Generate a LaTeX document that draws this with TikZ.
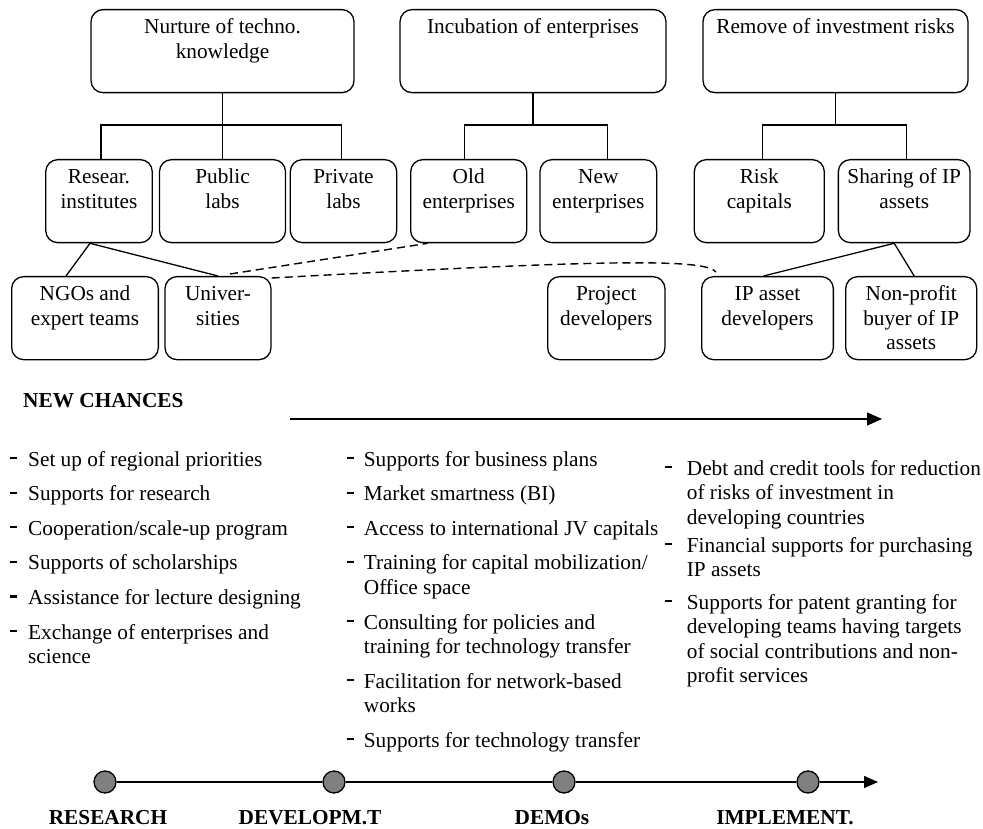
\documentclass[tikz,border=0pt]{standalone}
\usepackage{fontspec}
\setmainfont{Liberation Serif}
\usetikzlibrary{arrows.meta}

\newcommand{\boxlines}[1]{\begin{tabular}[t]{@{}c@{}}#1\end{tabular}}
\newcommand{\chancelines}[2][11pt]{\rule[6.8pt]{7pt}{2.3pt}\hspace{#1}\begin{tabular}[t]{@{}l@{}}#2\end{tabular}}

\begin{document}
\begin{tikzpicture}[x=1pt,y=-1pt,
    every node/.style={font=\fontsize{21.3}{24.5}\selectfont},
    unit/.style={draw, line width=1.3pt, rounded corners=12pt, anchor=north, inner sep=0pt, text height=24pt, text depth=59pt},
    chance/.style={anchor=base west, inner sep=0pt},
    stage/.style={anchor=base, inner sep=0pt, font=\fontsize{21.3}{24.5}\selectfont\bfseries},
    milestone/.style={draw, line width=1.3pt, fill=gray, circle, minimum size=22pt, inner sep=0pt},
    tree/.style={line width=1.3pt},
    link/.style={line width=1.4pt, dash pattern=on 8pt off 5pt}]
    \useasboundingbox (0,0) rectangle (983,829);

    % top level
    \node[unit, minimum width=263pt] (nur) at (222.5,9) {\boxlines{Nurture of techno.\\knowledge}};
    \node[unit, minimum width=266pt] (inc) at (533,9) {\boxlines{Incubation of enterprises}};
    \node[unit, minimum width=265pt] (rem) at (835.5,9) {\boxlines{Remove of investment risks}};

    % second level
    \node[unit, minimum width=106.5pt] (res) at (99,159) {\boxlines{Resear.\\institutes}};
    \node[unit, minimum width=126pt] (pub) at (222.5,159) {\boxlines{Public\\labs}};
    \node[unit, minimum width=106.4pt] (pri) at (343.5,159) {\boxlines{Private\\labs}};
    \node[unit, minimum width=116pt] (old) at (468.7,159) {\boxlines{Old\\enterprises}};
    \node[unit, minimum width=116.7pt] (new) at (598.3,159) {\boxlines{New\\enterprises}};
    \node[unit, minimum width=130pt] (risk) at (759.3,159) {\boxlines{Risk\\capitals}};
    \node[unit, minimum width=131.7pt] (share) at (904.2,159) {\boxlines{Sharing of IP\\assets}};

    % third level
    \node[unit, minimum width=146.7pt] (ngo) at (85,276) {\boxlines{NGOs and\\expert teams}};
    \node[unit, minimum width=106pt] (uni) at (218,276) {\boxlines{Univer-\\sities}};
    \node[unit, minimum width=117.3pt] (proj) at (606.3,276) {\boxlines{Project\\developers}};
    \node[unit, minimum width=131.7pt] (ipd) at (767.5,276) {\boxlines{IP asset\\developers}};
    \node[unit, minimum width=131pt] (npb) at (911.2,276) {\boxlines{Non-profit\\buyer of IP\\assets}};

    % tree connectors
    \coordinate (nurbar) at (222.5,125);
    \coordinate (incbar) at (533,125);
    \coordinate (rembar) at (835.5,125);
    \draw[tree] (nur.south) -- (pub.north);
    \draw[tree] ([xshift=2pt]res.north) |- (nurbar) -| ([xshift=-2pt]pri.north);
    \draw[tree] (inc.south) -- (incbar);
    \draw[tree] ([xshift=-4pt]old.north) |- (incbar) -| ([xshift=9pt]new.north);
    \draw[tree] (rem.south) -- (rembar);
    \draw[tree] ([xshift=3pt]risk.north) |- (rembar) -| ([xshift=2pt]share.north);

    \draw[tree] ([xshift=-9pt]res.south) -- ([xshift=-19pt]ngo.north);
    \draw[tree] ([xshift=-9pt]res.south) -- (uni.north);
    \draw[tree] ([xshift=-10pt]share.south) -- ([xshift=-4pt]ipd.north);
    \draw[tree] ([xshift=-10pt]share.south) -- ([xshift=3pt]npb.north);

    \draw[link] ([xshift=12pt,yshift=2pt]uni.north) -- ([xshift=-41pt]old.south);
    \draw[link] ([yshift=-2pt]uni.north east) .. controls (600,260) and (705,258) .. ([xshift=15pt,yshift=4pt]ipd.north west);

    % new chances
    \node[anchor=base west, inner sep=0pt, font=\fontsize{21.3}{24.5}\selectfont\bfseries] (newchances) at (23,407) {NEW CHANCES};
    \coordinate (flowstart) at (290,419);
    \coordinate (flowend) at (882,419);
    \draw[line width=1.3pt, -{Triangle[length=15pt,width=13pt]}] (flowstart) -- (flowend);

    \node[chance] (ra) at (10,466) {\chancelines{Set up of regional priorities}};
    \node[chance] (rb) at (10,500.6) {\chancelines{Supports for research}};
    \node[chance] (rc) at (10,535.2) {\chancelines{Cooperation/scale-up program}};
    \node[chance] (rd) at (10,569.8) {\chancelines{Supports of scholarships}};
    \node[chance] (re) at (10,604.4) {\chancelines{Assistance for lecture designing}};
    \node[chance] (rf) at (10,639) {\chancelines{Exchange of enterprises and\\science}};

    \node[chance] (da) at (346.7,466) {\chancelines[10pt]{Supports for business plans}};
    \node[chance] (db) at (346.7,500.6) {\chancelines[10pt]{Market smartness (BI)}};
    \node[chance] (dc) at (346.7,535.2) {\chancelines[10pt]{Access to international JV capitals}};
    \node[chance] (dd) at (346.7,569.8) {\chancelines[10pt]{Training for capital mobilization/\\Office space}};
    \node[chance] (de) at (346.7,629) {\chancelines[10pt]{Consulting for policies and\\training for technology transfer}};
    \node[chance] (df) at (346.7,688) {\chancelines[10pt]{Facilitation for network-based\\works}};
    \node[chance] (dg) at (346.7,747) {\chancelines[10pt]{Supports for technology transfer}};

    \node[chance] (ia) at (665,475) {\chancelines[14.7pt]{Debt and credit tools for reduction\\of risks of investment in\\developing countries}};
    \node[chance] (ib) at (665,552) {\chancelines[14.7pt]{Financial supports for purchasing\\IP assets}};
    \node[chance] (ic) at (665,609) {\chancelines[14.7pt]{Supports for patent granting for\\developing teams having targets\\of social contributions and non-\\profit services}};

    % stages
    \node[milestone] (ms1) at (105,782) {};
    \node[milestone] (ms2) at (334,782) {};
    \node[milestone] (ms3) at (564,782) {};
    \node[milestone] (ms4) at (808,782) {};
    \coordinate (stageend) at (878,782);
    \draw[line width=1.3pt] (ms1) -- (ms2) -- (ms3) -- (ms4);
    \draw[line width=1.3pt, -{Triangle[length=14pt,width=12pt]}] (ms4) -- (stageend);

    \node[stage] (sres) at (108,824) {RESEARCH};
    \node[stage] (sdev) at (310,824) {DEVELOPM.T};
    \node[stage] (sdem) at (552,824) {DEMOs};
    \node[stage] (simp) at (785,824) {IMPLEMENT.};
\end{tikzpicture}
\end{document}
